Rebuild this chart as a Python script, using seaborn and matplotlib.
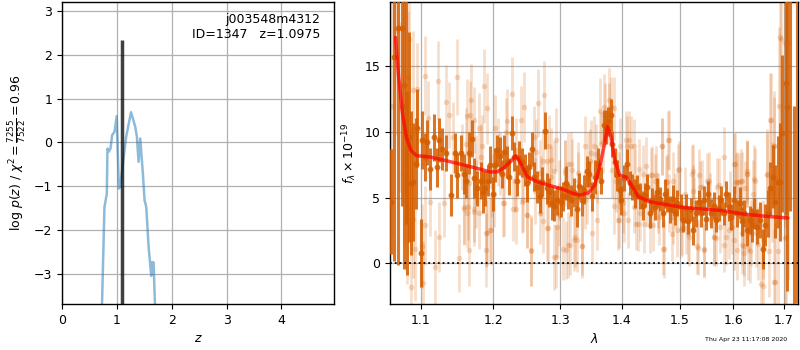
import matplotlib
matplotlib.use('Agg')
import matplotlib.pyplot as plt
import seaborn as sns
from matplotlib.ticker import NullLocator, FixedLocator, FixedFormatter

# --- redshift fit: log p(z) ---
pz_z = [0.715, 0.730, 0.774, 0.817, 0.829, 0.854, 0.884, 0.915, 0.957, 0.998,
        1.037, 1.046, 1.060, 1.110, 1.170, 1.259, 1.335, 1.366, 1.396, 1.427,
        1.475, 1.506, 1.537, 1.580, 1.628, 1.640, 1.670, 1.695, 1.710]
pz_logp = [-4.4, -3.68, -1.47, -1.17, -0.14, -0.21, -0.14, 0.17, 0.24, 0.60,
           -1.05, -1.03, -1.02, -0.48, 0.13, 0.69, 0.36, 0.13, -0.44, 0.09,
           -0.71, -1.32, -1.47, -2.39, -3.04, -2.73, -2.73, -3.68, -4.3]
z_best = 1.0975
z_line_top = 2.33

# --- spectrum: binned (dark) ---
dark_wave = [1.061, 1.065, 1.070, 1.075, 1.078, 1.080, 1.082, 1.085, 1.087, 1.0895,
             1.093, 1.095, 1.100, 1.102, 1.105, 1.108, 1.112, 1.117, 1.121, 1.124,
             1.128, 1.133, 1.140, 1.146, 1.149, 1.154, 1.159, 1.161, 1.165, 1.170,
             1.173, 1.177, 1.182, 1.185, 1.188, 1.192, 1.195, 1.199,
             1.202, 1.205, 1.209, 1.212, 1.216, 1.219, 1.223, 1.227, 1.230, 1.234,
             1.238, 1.242, 1.246, 1.250, 1.253, 1.257, 1.260, 1.265, 1.269, 1.272,
             1.276, 1.280, 1.283, 1.287, 1.291, 1.295,
             1.302, 1.305, 1.309, 1.313, 1.317, 1.322, 1.326, 1.330, 1.334, 1.338,
             1.342, 1.346, 1.350, 1.355, 1.361, 1.366, 1.370, 1.374, 1.377, 1.381,
             1.384, 1.388, 1.391, 1.396, 1.399,
             1.404, 1.408, 1.413, 1.417, 1.422, 1.425, 1.430, 1.435, 1.439, 1.443,
             1.448, 1.452, 1.456, 1.460, 1.465, 1.470, 1.474, 1.478, 1.483, 1.488,
             1.492, 1.496,
             1.502, 1.507, 1.512, 1.516, 1.520, 1.525, 1.530, 1.535, 1.540, 1.544,
             1.549, 1.553, 1.558, 1.563, 1.568, 1.572, 1.576, 1.582, 1.586, 1.591,
             1.596,
             1.601, 1.607, 1.612, 1.617, 1.621, 1.626, 1.632, 1.636, 1.641, 1.646,
             1.651, 1.657, 1.662, 1.667, 1.672, 1.677, 1.682, 1.688, 1.692, 1.697,
             1.704, 1.706, 1.712, 1.720, 1.726]
dark_flux = [4.7, 15.7, 17.9, 17.9, 13.6, 12.0, 6.1, 9.6, 6.1, 6.2,
             7.6, 10.3, 0.8, 9.4, 8.1, 9.2, 7.2, 9.6, 7.3, 9.4,
             8.7, 8.4, 5.2, 8.4, 6.7, 8.4, 6.8, 6.3, 8.4, 9.5,
             6.5, 5.7, 6.3, 5.4, 5.7, 6.3, 7.5, 5.3,
             7.5, 8.6, 8.2, 6.8, 8.5, 7.7, 6.6, 9.9, 8.1, 6.3,
             8.0, 7.7, 7.1, 6.1, 7.3, 8.7, 6.6, 5.8, 5.1, 6.2,
             10.1, 5.7, 5.4, 4.6, 4.4, 4.8,
             4.7, 5.1, 6.1, 5.1, 4.8, 5.4, 4.1, 5.9, 4.8, 5.6,
             7.0, 6.8, 5.1, 6.6, 7.6, 6.3, 10.5, 10.4, 10.8, 11.3,
             9.1, 7.7, 6.7, 5.6, 4.8,
             6.5, 7.6, 6.1, 5.8, 5.3, 5.8, 5.1, 4.4, 5.2, 5.8,
             3.8, 4.8, 4.3, 5.4, 4.9, 3.8, 5.3, 4.8, 4.1, 4.9,
             3.8, 4.6,
             4.3, 3.3, 4.2, 3.2, 4.1, 2.5, 3.8, 4.7, 3.8, 4.8,
             3.4, 5.3, 3.8, 4.4, 3.3, 4.2, 4.8, 3.8, 5.3, 4.3,
             3.5,
             4.8, 3.8, 4.6, 3.2, 3.8, 2.5, 3.3, 2.9, 3.8, 2.8,
             3.3, 1.1, 2.9, 3.8, 5.7, 6.6, 4.7, 6.2, 6.2, 9.9,
             13.7, 11.9, 24.0, -8.0, 22.0]
dark_err = [4.0, 15.5, 18.0, 13.5, 14.0, 9.0, 7.0, 8.0, 5.5, 4.5,
            3.5, 3.0, 2.6, 2.2, 1.8, 1.7, 1.6, 1.8, 1.5, 1.7,
            1.6, 1.4, 1.6, 1.5, 1.7, 1.4, 1.5, 1.3, 1.6, 1.4,
            1.5, 1.3, 1.4, 1.6, 1.3, 1.2, 1.4, 1.3,
            1.3, 1.2, 1.4, 1.1, 1.3, 1.2, 1.4, 1.3, 1.1, 1.2,
            1.3, 1.1, 1.2, 1.4, 1.2, 1.3, 1.1, 1.2, 1.3, 1.1,
            1.4, 1.2, 1.1, 1.3, 1.2, 1.1,
            1.2, 1.1, 1.3, 1.0, 1.2, 1.1, 1.3, 1.0, 1.2, 1.1,
            1.2, 1.0, 1.1, 1.3, 1.2, 1.0, 1.2, 1.3, 1.1, 1.2,
            1.0, 1.1, 1.2, 1.0, 1.1,
            1.0, 1.1, 0.9, 1.0, 1.1, 0.9, 1.0, 1.1, 0.9, 1.0,
            1.1, 0.9, 1.0, 1.1, 0.9, 1.0, 1.1, 0.9, 1.0, 1.1,
            0.9, 1.0,
            1.0, 0.9, 1.1, 1.0, 0.9, 1.1, 1.0, 0.9, 1.0, 1.1,
            0.9, 1.0, 1.1, 1.0, 0.9, 1.0, 1.1, 0.9, 1.0, 1.1,
            1.0,
            1.1, 1.0, 1.2, 1.1, 1.0, 1.2, 1.1, 1.3, 1.2, 1.3,
            1.4, 1.5, 1.6, 1.8, 2.0, 2.4, 2.8, 3.5, 4.5, 6.0,
            10.0, 14.0, 20.0, 20.0, 25.0]

# --- spectrum: unbinned (light) ---
light_wave = [1.062, 1.068, 1.073, 1.078, 1.082, 1.083, 1.084, 1.087, 1.089, 1.090,
              1.092, 1.095, 1.101, 1.103, 1.105,
              1.106, 1.110, 1.112, 1.119, 1.123, 1.124, 1.131, 1.133, 1.138, 1.143,
              1.148, 1.152, 1.155, 1.159, 1.163, 1.166, 1.168, 1.172, 1.175, 1.179,
              1.184, 1.186, 1.190, 1.195, 1.198,
              1.202, 1.210, 1.214, 1.219, 1.227, 1.229, 1.233, 1.240, 1.242, 1.245,
              1.250, 1.255, 1.260, 1.263, 1.266, 1.270, 1.273, 1.275, 1.279, 1.282,
              1.286, 1.291, 1.293, 1.298,
              1.304, 1.307, 1.312, 1.317, 1.323, 1.326, 1.328, 1.334, 1.339, 1.343,
              1.347, 1.353, 1.358, 1.363, 1.368, 1.371, 1.378, 1.382, 1.386, 1.390,
              1.393, 1.397,
              1.401, 1.406, 1.410, 1.416, 1.422, 1.424, 1.430, 1.436, 1.442, 1.447,
              1.451, 1.456, 1.462, 1.468, 1.471, 1.477, 1.480, 1.486, 1.492, 1.498,
              1.504, 1.510, 1.516, 1.523, 1.527, 1.532, 1.538, 1.544, 1.550, 1.556,
              1.563, 1.569, 1.575, 1.582, 1.586, 1.593, 1.597,
              1.603, 1.610, 1.617, 1.621, 1.626, 1.632, 1.638, 1.642, 1.649, 1.653,
              1.658, 1.666, 1.671, 1.675, 1.679, 1.682, 1.689, 1.691, 1.693, 1.702,
              1.705, 1.708,
              # second pass over the picture
              1.191, 1.167, 1.163, 1.172, 1.218, 1.161, 1.182, 1.206, 1.158, 1.164,
              1.172, 1.180, 1.191, 1.197, 1.189, 1.166, 1.216, 1.233, 1.243, 1.250,
              1.256, 1.231, 1.175, 1.201,
              1.286, 1.290, 1.269, 1.280, 1.312, 1.319, 1.307, 1.328, 1.344, 1.349,
              1.357, 1.365, 1.370, 1.269, 1.274, 1.281, 1.295, 1.298, 1.309, 1.315,
              1.322, 1.335, 1.350, 1.294, 1.359, 1.261, 1.340,
              1.387, 1.379, 1.412, 1.409, 1.421, 1.468, 1.481, 1.395, 1.384, 1.429,
              1.441, 1.449, 1.458, 1.475, 1.489, 1.395, 1.404, 1.421, 1.427, 1.437,
              1.453, 1.464, 1.472, 1.496, 1.461, 1.481, 1.489,
              1.627, 1.524, 1.536, 1.499, 1.554, 1.573, 1.607, 1.617, 1.623, 1.524,
              1.541, 1.502, 1.517, 1.533, 1.545, 1.564, 1.582, 1.607, 1.617, 1.628,
              1.568, 1.511, 1.591,
              1.602, 1.605, 1.615, 1.626, 1.640, 1.665, 1.680, 1.673, 1.694, 1.703,
              1.657, 1.680, 1.621, 1.669, 1.645, 1.602, 1.635]
light_flux = [12.0, 17.8, 11.9, 6.8, 3.4, 14.2, 17.1, -1.8, 3.4, 13.2,
              1.1, 13.3, 1.3, -1.5, 2.9,
              14.3, 11.1, 4.7, -0.3, 13.9, 2.0, 4.6, 12.3, 11.3, 9.6,
              14.2, 0.4, 8.1, 4.1, 3.8, 6.1, 12.4, 4.1, 7.2, 10.3,
              8.9, 13.5, 2.3, 2.5, 5.9,
              10.3, 7.6, 4.6, 10.8, 12.9, 4.1, 8.6, 10.9, 4.7, 11.9,
              3.7, 0.9, 9.6, 8.5, 12.2, 5.9, 7.8, 12.8, 2.7, 8.9,
              6.6, 0.5, 9.4, 5.6,
              1.1, 7.1, 1.4, 7.6, 2.0, 1.8, 6.3, 1.3, 8.9, 5.2,
              7.8, 8.9, 6.8, 11.6, 9.2, 11.3, 12.4, 11.9, 4.4, 6.3,
              3.3, 8.9,
              4.6, 9.4, 3.3, 8.9, 6.5, 3.0, 3.8, 6.8, 4.8, 2.9,
              6.7, 6.3, 4.8, 8.9, 1.1, 6.2, 9.4, 2.2, 4.8, 7.1,
              2.7, 5.3, 2.3, 6.8, 4.6, 1.3, 5.8, 1.1, 6.3, 4.9,
              2.0, 5.8, 2.8, 8.1, 2.0, 4.8, 2.8,
              7.6, 6.2, 2.3, 1.3, 6.8, 0.9, 5.3, 6.3, 1.5, -1.6,
              1.8, 6.8, 10.9, 5.4, 8.9, -1.4, 0.9, 12.0, 17.2, 1.9,
              2.0, 16.8,
              11.8, 11.3, 11.2, 10.9, 10.0, 9.1, 8.1, 8.5, 4.3, 4.3,
              3.9, 3.8, 2.3, 2.5, 1.0, 1.0, 4.6, 4.1, 4.8, 3.7,
              1.0, 6.3, 5.3, 5.3,
              7.9, 7.0, 6.9, 7.8, 7.6, 7.1, 6.9, 6.9, 7.6, 8.4,
              8.3, 9.1, 11.9, 3.8, 3.2, 2.7, 2.8, 3.7, 1.0, 1.4,
              1.8, 1.3, 2.3, 0.5, 3.3, 5.5, 4.8,
              11.8, 11.4, 9.4, 8.9, 8.9, 8.9, 9.4, 6.3, 7.1, 7.2,
              7.4, 6.7, 6.7, 6.2, 6.3, 3.3, 3.8, 4.3, 3.0, 3.0,
              2.9, 3.5, 1.1, 2.5, 4.4, 4.6, 3.5,
              7.0, 7.0, 6.7, 7.2, 6.3, 6.0, 6.2, 6.3, 5.7, 5.5,
              5.8, 2.5, 2.0, 1.2, 1.0, 2.0, 1.4, 1.0, 1.4, 1.1,
              1.9, 2.7, 2.5,
              7.6, 6.2, 6.3, 6.8, 6.4, 6.7, 8.9, 10.9, 17.1, 16.8,
              -1.7, -1.4, 0.8, 0.9, 2.3, 1.8, 2.3]
light_err = [10.0, 8.0, 6.5, 5.5, 5.0, 5.0, 5.0, 5.0, 4.5, 4.5,
             4.0, 3.5, 3.2, 3.2, 3.0,
             3.0, 2.8, 2.6, 2.8, 3.0, 2.7, 2.6, 2.8, 2.5, 2.7,
             2.9, 2.6, 2.5, 2.7, 2.6, 2.4, 2.8, 2.5, 2.6, 2.7,
             2.4, 2.8, 2.6, 2.5, 2.4,
             2.5, 2.4, 2.6, 2.5, 2.8, 2.4, 2.5, 2.6, 2.4, 2.7,
             2.5, 2.6, 2.4, 2.5, 2.6, 2.3, 2.4, 2.6, 2.5, 2.4,
             2.3, 2.5, 2.4, 2.3,
             2.4, 2.3, 2.5, 2.4, 2.3, 2.5, 2.2, 2.4, 2.3, 2.2,
             2.4, 2.3, 2.2, 2.5, 2.3, 2.4, 2.5, 2.3, 2.2, 2.4,
             2.3, 2.2,
             2.3, 2.2, 2.1, 2.3, 2.2, 2.0, 2.1, 2.2, 2.0, 2.1,
             2.2, 2.0, 2.1, 2.2, 2.0, 2.1, 2.2, 2.0, 2.1, 2.0,
             2.1, 2.0, 2.1, 2.2, 2.0, 2.1, 2.0, 2.2, 2.1, 2.0,
             2.1, 2.2, 2.0, 2.3, 2.1, 2.2, 2.1,
             2.3, 2.2, 2.4, 2.3, 2.5, 2.4, 2.6, 2.5, 2.8, 3.0,
             3.0, 3.4, 3.6, 3.8, 4.2, 4.5, 5.0, 6.0, 9.0, 12.0,
             15.0, 18.0,
             2.7, 2.6, 2.8, 2.5, 2.6, 2.7, 2.5, 2.6, 2.8, 2.5,
             2.6, 2.7, 2.5, 2.6, 2.8, 2.7, 2.5, 2.6, 2.4, 2.5,
             2.7, 2.4, 2.6, 2.5,
             2.4, 2.3, 2.5, 2.4, 2.3, 2.4, 2.5, 2.3, 2.4, 2.5,
             2.3, 2.4, 2.5, 2.3, 2.4, 2.5, 2.3, 2.4, 2.2, 2.3,
             2.4, 2.2, 2.3, 2.4, 2.3, 2.5, 2.2,
             2.4, 2.3, 2.2, 2.3, 2.1, 2.2, 2.3, 2.2, 2.1, 2.3,
             2.2, 2.1, 2.2, 2.0, 2.2, 2.1, 2.2, 2.0, 2.1, 2.2,
             2.0, 2.1, 2.2, 2.0, 2.1, 2.2, 2.0,
             2.4, 2.1, 2.0, 2.1, 2.2, 2.0, 2.3, 2.2, 2.1, 2.0,
             2.1, 2.0, 2.2, 2.1, 2.0, 2.2, 2.1, 2.3, 2.2, 2.4,
             2.1, 2.0, 2.2,
             2.3, 2.2, 2.4, 2.5, 2.6, 3.2, 3.8, 3.6, 8.0, 14.0,
             3.0, 4.0, 2.5, 3.5, 2.6, 2.3, 2.5]

# --- best-fit model ---
model_wave = [1.067, 1.071, 1.076, 1.081, 1.087, 1.094, 1.112, 1.135, 1.159, 1.182,
              1.195, 1.205, 1.215, 1.227, 1.233, 1.240, 1.250, 1.265, 1.284, 1.304,
              1.320, 1.331, 1.345, 1.355, 1.363, 1.370, 1.376, 1.382, 1.388, 1.396,
              1.407, 1.416, 1.428, 1.448, 1.472, 1.507, 1.544, 1.582, 1.619, 1.658,
              1.708]
model_flux = [17.2, 14.2, 11.4, 9.6, 8.6, 8.2, 8.1, 7.8, 7.47, 7.16,
              6.96, 6.96, 7.27, 7.85, 8.2, 7.6, 6.58, 6.2, 5.92, 5.65,
              5.32, 5.19, 5.37, 5.95, 7.34, 8.86, 10.4, 9.6, 7.85, 6.7,
              6.58, 5.95, 5.06, 4.68, 4.5, 4.25, 4.13, 4.0, 3.75, 3.6,
              3.45]

wave_ticks = [1.1, 1.2, 1.3, 1.4, 1.5, 1.6, 1.7]
flux_ticks = [0, 5, 10, 15]
z_ticks = [0, 1, 2, 3, 4]
logp_ticks = [-3, -2, -1, 0, 1, 2, 3]

G141_COLOR = '#d55e00'

sns.set_style('ticks', {'axes.grid': True, 'grid.color': '#b0b0b0',
                        'axes.edgecolor': 'k', 'xtick.color': 'k', 'ytick.color': 'k',
                        'text.color': 'k', 'axes.labelcolor': 'k'})
plt.rcParams['font.family'] = ['DejaVu Sans']
plt.rcParams['font.size'] = 9
plt.rcParams['axes.linewidth'] = 1.0
plt.rcParams['grid.linewidth'] = 0.9

fig = plt.figure(figsize=(8, 3.5), dpi=100)
ax1 = fig.add_axes([62/800, 46/350, 272/800, 302/350])
ax2 = fig.add_axes([390/800, 46/350, 408/800, 302/350])

# left panel: p(z)
sns.lineplot(x=pz_z, y=pz_logp, ax=ax1, color='tab:blue', alpha=0.5, lw=1.8,
             sort=False, estimator=None)
ax1.vlines(z_best, -4.0, z_line_top, color='k', alpha=0.75, lw=2.5)
ax1.set_xlim(0, 4.96)
ax1.set_ylim(-3.68, 3.2)
ax1.set_xticks(z_ticks)
ax1.set_yticks(logp_ticks)
ax1.set_xlabel('$z$')
ax1.set_ylabel(r'$\log\,p(z)$' + ' / ' + r'$\chi^2=\frac{7255}{7522}=0.96$')
ax1.text(0.95, 0.965, 'j003548m4312\nID=1347   z=1.0975', transform=ax1.transAxes,
         ha='right', va='top', fontsize=9)

# right panel: spectrum
ax2.set_xscale('log')
ax2.errorbar(light_wave, light_flux, yerr=light_err, fmt='none',
             ecolor=G141_COLOR, elinewidth=2, alpha=0.2, zorder=2)
sns.scatterplot(x=light_wave, y=light_flux, ax=ax2, color=G141_COLOR, s=16,
                alpha=0.22, linewidth=0, zorder=2)
ax2.errorbar(dark_wave, dark_flux, yerr=dark_err, fmt='none',
             ecolor=G141_COLOR, elinewidth=2.2, alpha=0.85, zorder=3)
sns.scatterplot(x=dark_wave, y=dark_flux, ax=ax2, color=G141_COLOR, s=18,
                alpha=0.85, linewidth=0, zorder=3)
sns.lineplot(x=model_wave, y=model_flux, ax=ax2, color='red', alpha=0.7, lw=2.5,
             sort=False, estimator=None, zorder=4)
ax2.axhline(0, color='k', ls=':', lw=1.3, zorder=5)

ax2.set_xlim(1.060, 1.729)
ax2.set_ylim(-3.1, 19.9)
ax2.xaxis.set_major_locator(FixedLocator(wave_ticks))
ax2.xaxis.set_major_formatter(FixedFormatter([f'{w:.1f}' for w in wave_ticks]))
ax2.xaxis.set_minor_locator(NullLocator())
ax2.set_yticks(flux_ticks)
ax2.set_xlabel(r'$\lambda$')
ax2.set_ylabel(r'$f_\lambda\times10^{-19}$')

for ax in (ax1, ax2):
    ax.set_axisbelow(True)
    for sp in ax.spines.values():
        sp.set_visible(True)
        sp.set_color('k')

fig.text(0.984, 0.031, 'Thu Apr 23 11:17:08 2020', ha='right', va='center', fontsize=4.5)

fig.savefig('out.png', dpi=100)
